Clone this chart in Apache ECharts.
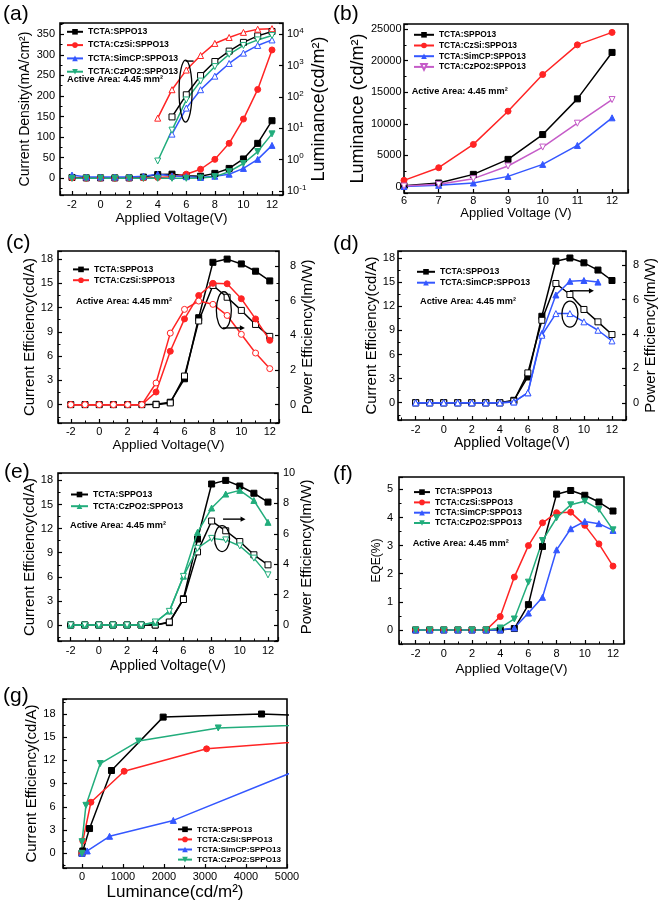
<!DOCTYPE html>
<html><head><meta charset="utf-8">
<script src="https://cdn.jsdelivr.net/npm/echarts@6/dist/echarts.min.js"></script>
<style>html,body{margin:0;padding:0;background:#fff}#c{width:661px;height:903px}</style>
</head><body><div id="c"></div>
<script>
// ---------------- data ----------------
const voltages = [-2,-1,0,1,2,3,4,5,6,7,8,9,10,11,12];
const voltagesB = [6,7,8,9,10,11,12];
const names = ['TCTA:SPPO13','TCTA:CzSi:SPPO13','TCTA:SimCP:SPPO13','TCTA:CzPO2:SPPO13'];

// (a) current density (mA/cm2)
const jSPPO13 = [2,1,1,1,1,3,9,10,6,5,12,24,47,85,140];
const jCzSi   = [1,0,0,0,0,1,2,4,10,22,46,85,144,216,312];
const jSimCP  = [8,3,3,3,3,5,10,6,4,2,5,10,24,46,80];
const jCzPO2  = [0,0,0,0,0,0,0,0,0,1,4,16,36,65,108];
// (a) luminance (cd/m2, log axis)
const lumA_SPPO13 = [null,null,null,null,null,null,null,23,117,480,1350,2900,5500,8900,12300];
const lumA_CzSi   = [null,null,null,null,null,null,21,170,720,2100,5100,7900,11500,14500,15100];
const lumA_SimCP  = [null,null,null,null,null,null,null,6.5,44,170,460,1170,2500,4400,6600];
const lumA_CzPO2  = [null,null,null,null,null,null,0.9,8.7,80,320,930,2300,4400,6600,9100];
// (b) luminance (cd/m2)
const lumB_SPPO13 = [200,630,2000,4370,8300,13950,21300];
const lumB_CzSi   = [1050,3050,6740,12000,17800,22500,24470];
const lumB_SimCP  = [80,260,630,1680,3580,6580,10950];
const lumB_CzPO2  = [150,420,1320,3320,6320,10100,13840];
// (c) current efficiency (cd/A) and power efficiency (lm/W)
const ceC_SPPO13 = [0,0,0,0,0,0,0.05,0.3,3.2,10.75,17.6,18,17.4,16.5,15.3];
const ceC_CzSi   = [0,0,0,0,0,0,1.56,6.6,10.6,13.5,15,14.95,13.1,10.6,7.95];
const peC_SPPO13 = [null,null,null,null,null,null,0,0.1,1.65,4.83,6.88,6.2,5.44,4.63,3.94];
const peC_CzSi   = [0,0,0,0,0,0,1.25,4.13,5.5,5.98,5.79,5.15,4.06,2.98,2.08];
// (d)
const ceD_SPPO13 = [0,0,0,0,0,0,0,0.3,3.2,10.75,17.6,18,17.4,16.5,15.2];
const ceD_SimCP  = [0,0,0,0,0,0,0,0.1,1.24,8.6,13.4,15.1,15.2,15.0,null];
const peD_SPPO13 = [0,0,0,0,0,0,0,0.1,1.74,4.8,6.94,6.3,5.43,4.71,3.97];
const peD_SimCP  = [0,0,0,0,0,0,0,0.05,0.58,3.93,5.19,5.19,4.71,4.22,3.6];
// (e)
const ceE_SPPO13 = [0,0,0,0,0,0,0,0.3,3.27,10.7,17.55,18,17.3,16.4,15.3];
const ceE_CzPO2  = [0,0,0,0,0,0,0.3,1.74,6.08,11.54,14.56,16.3,16.76,15.5,12.78];
const peE_SPPO13 = [0,0,0,0,0,0,0,0.2,1.68,4.81,6.84,6.2,5.49,4.62,3.96];
const peE_CzPO2  = [0,0,0,0,0,0,0.2,0.9,3.2,5.05,5.7,5.6,5.2,4.4,3.3];
// (f) EQE (%)
const eqeSPPO13 = [0,0,0,0,0,0,0,0.05,0.9,2.97,4.83,4.96,4.79,4.55,4.23];
const eqeCzSi   = [0,0,0,0,0,0,0.475,1.88,3.0,3.81,4.17,4.19,3.72,3.06,2.27];
const eqeSimCP  = [0,0,0,0,0,0,0,0.07,0.6,1.16,2.85,3.6,3.86,3.78,3.54];
const eqeCzPO2  = [0,0,0,0,0,0,0.07,0.39,1.7,3.18,3.99,4.45,4.58,4.29,3.56];
// (g) current efficiency vs luminance
const lumG_SPPO13 = [0,20,185,720,1980,4380,8300];
const ceG_SPPO13  = [0,0.3,3.2,10.7,17.6,18.0,17.3];
const lumG_CzSi   = [0,21,219,1029,3039,6700];
const ceG_CzSi    = [0,1.6,6.6,10.6,13.5,15.0];
const lumG_SimCP  = [0,130,673,2228,6500];
const ceG_SimCP   = [0,0.3,2.2,4.25,13.4];
const lumG_CzPO2  = [0,2,97,446,1378,3323,6700];
const ceG_CzPO2   = [0,1.5,6.2,11.6,14.5,16.2,16.8];

// ---------------- helpers ----------------
const F = "'Liberation Sans', Arial, sans-serif";
const COL = {k:'#000000', r:'#ff2424', b:'#3457ff', g:'#22ad7c', m:'#c55cc8'};
const TD = 'path://M0,0L10,0L5,8.66Z';
function pts(xs, ys){ const o=[]; xs.forEach((x,i)=>{ if(ys[i]!=null) o.push([x, ys[i]]); }); return o; }
function isMul(v, iv){ const q=v/iv; return Math.abs(q-Math.round(q))<1e-6; }
function numFmt(v){ const r=Math.round(v*1000)/1000; return String(r===0?0:r); }

function valAxis(o){
  return {
    type:'value', gridIndex:o.grid, position:o.pos, min:o.min, max:o.max,
    minInterval:o.iv, maxInterval:o.iv, splitNumber:Math.max(1,Math.round((o.max-o.min)/o.iv)),
    name:o.name, nameLocation:'middle', nameGap:o.gap,
    nameTextStyle:{fontFamily:F, fontSize:o.ns, color:'#000'},
    axisLine:{show:false, onZero:false},
    axisTick:{show:true, inside:true, length:4, lineStyle:{color:'#000', width:1.2}},
    minorTick:{show:o.minor!==false, splitNumber:2, length:2.5, lineStyle:{color:'#000', width:1}},
    splitLine:{show:false}, minorSplitLine:{show:false},
    axisLabel:{margin:o.margin, fontFamily:F, fontSize:11, color:'#000',
      formatter:v=>isMul(v,o.iv)?numFmt(v):''}
  };
}
function S(name, xi, yi, data, color, symbol, open, z){
  return {type:'line', name, xAxisIndex:xi, yAxisIndex:yi, data, color, symbol,
    symbolSize:6, showSymbol:true, lineStyle:{width:1.5, color},
    itemStyle: open?{color:'#fff', borderColor:color, borderWidth:1}:{color, borderColor:color},
    emphasis:{disabled:true}, silent:true, clip:true, z:z||2, animation:false};
}
function legend(left, top, gap, fs, iw, list){
  return {left, top, orient:'vertical', padding:0, itemGap:gap, itemWidth:iw, itemHeight:7,
    selectedMode:false, data:list, formatter:n=>n.split('#')[0],
    textStyle:{fontFamily:F, fontSize:fs, fontWeight:'bold', color:'#000'}};
}

// ---------------- layout ----------------
const grids = [
  {left:60, top:23, width:223, height:172},   // a
  {left:404, top:24, width:224, height:169},  // b
  {left:58, top:251, width:221, height:172},  // c
  {left:398, top:251, width:228, height:169}, // d
  {left:58, top:473, width:220, height:168},  // e
  {left:399, top:477, width:225, height:167}, // f
  {left:63, top:699, width:224, height:169}   // g
].map(g=>Object.assign(g,{show:true, borderColor:'#000', borderWidth:1.6, containLabel:false}));

const xAxes = [
  valAxis({grid:0,pos:'bottom',min:-2.84,max:12.77,iv:2,name:'Applied Voltage(V)',ns:13.5,gap:15,margin:4.5}),
  valAxis({grid:1,pos:'bottom',min:6,max:12.46,iv:1,name:'Applied Voltage (V)',ns:13,gap:14,margin:2.5,minor:false}),
  valAxis({grid:2,pos:'bottom',min:-2.9,max:12.65,iv:2,name:'Applied Voltage(V)',ns:13.5,gap:15.5,margin:3.5}),
  valAxis({grid:3,pos:'bottom',min:-3.26,max:13.0,iv:2,name:'Applied Voltage(V)',ns:14,gap:13,margin:4.5}),
  valAxis({grid:4,pos:'bottom',min:-2.9,max:12.71,iv:2,name:'Applied Voltage(V)',ns:14,gap:18,margin:4.5}),
  valAxis({grid:5,pos:'bottom',min:-3.18,max:12.78,iv:2,name:'Applied Voltage(V)',ns:13.5,gap:18,margin:4.5}),
  valAxis({grid:6,pos:'bottom',min:-462,max:5000,iv:1000,name:'Luminance(cd/m²)',ns:17,gap:16,margin:3.5})
];
const logAxis = {
  type:'log', logBase:10, gridIndex:0, position:'right', min:0.074, max:22900,
  name:'Luminance(cd/m²)', nameLocation:'middle', nameGap:24.5,
  nameTextStyle:{fontFamily:F, fontSize:18, color:'#000'},
  axisLine:{show:false, onZero:false},
  axisTick:{show:true, inside:true, length:4, lineStyle:{color:'#000', width:1.2}},
  splitLine:{show:false},
  axisLabel:{margin:4, fontFamily:F, color:'#000',
    formatter:v=>{ const e=Math.log10(v); const r=Math.round(e);
      if(Math.abs(e-r)>1e-4) return ''; return '{b|10}{s|'+String(r)+'}'; },
    rich:{b:{fontFamily:F, fontSize:11, color:'#000'}, s:{fontFamily:F, fontSize:8, color:'#000', padding:[0,0,7,0]}}}
};
const yAxes = [
  valAxis({grid:0,pos:'left',min:-40.6,max:377.5,iv:50,name:'Current Density(mA/cm²)',ns:14,gap:28,margin:5}),
  logAxis,
  valAxis({grid:1,pos:'left',min:-950,max:25800,iv:5000,name:'Luminance (cd/m²)',ns:18,gap:25,margin:2.5}),
  valAxis({grid:2,pos:'left',min:-2.27,max:19,iv:3,name:'Current Efficiency(cd/A)',ns:15,gap:19,margin:5}),
  valAxis({grid:2,pos:'right',min:-1.06,max:8.87,iv:2,name:'Power Efficiency(lm/W)',ns:15,gap:18,margin:11}),
  valAxis({grid:3,pos:'left',min:-2.15,max:18.87,iv:3,name:'Current Efficiency(cd/A)',ns:15,gap:14,margin:3}),
  valAxis({grid:3,pos:'right',min:-1.0,max:8.83,iv:2,name:'Power Efficiency(lm/W)',ns:15,gap:17.5,margin:7}),
  valAxis({grid:4,pos:'left',min:-1.99,max:18.92,iv:3,name:'Current Efficiency(cd/A)',ns:15,gap:19,margin:5}),
  valAxis({grid:4,pos:'right',min:-1.05,max:10,iv:2,name:'Power Efficiency(lm/W)',ns:15,gap:17.5,margin:5}),
  valAxis({grid:5,pos:'left',min:-0.5,max:5.44,iv:1,name:'EQE(%)',ns:12,gap:16.5,margin:6}),
  valAxis({grid:6,pos:'left',min:-1.9,max:19.94,iv:3,name:'Current Efficiency(cd/A)',ns:15,gap:23.5,margin:7.5})
];

const V = voltages;
const series = [
  // (a)
  S('lumSPPO13#a',0,1,pts(V,lumA_SPPO13),COL.k,'rect',true),
  S('lumCzSi#a',0,1,pts(V,lumA_CzSi),COL.r,'triangle',true),
  S('lumSimCP#a',0,1,pts(V,lumA_SimCP),COL.b,'triangle',true),
  S('lumCzPO2#a',0,1,pts(V,lumA_CzPO2),COL.g,TD,true),
  S(names[0]+'#aJ',0,0,pts(V,jSPPO13),COL.k,'rect',false,3),
  S(names[1]+'#aJ',0,0,pts(V,jCzSi),COL.r,'circle',false,3),
  S(names[2]+'#aJ',0,0,pts(V,jSimCP),COL.b,'triangle',false,3),
  S(names[3]+'#aJ',0,0,pts(V,jCzPO2),COL.g,TD,false,3),
  // (b)
  S(names[0]+'#b',1,2,pts(voltagesB,lumB_SPPO13),COL.k,'rect',false),
  S(names[1]+'#b',1,2,pts(voltagesB,lumB_CzSi),COL.r,'circle',false),
  S(names[2]+'#b',1,2,pts(voltagesB,lumB_SimCP),COL.b,'triangle',false),
  S(names[3]+'#b',1,2,pts(voltagesB,lumB_CzPO2),COL.m,TD,true),
  // (c)
  S(names[0]+'#c',2,3,pts(V,ceC_SPPO13),COL.k,'rect',false),
  S('pe0#c',2,4,pts(V,peC_SPPO13),COL.k,'rect',true),
  S(names[1]+'#c',2,3,pts(V,ceC_CzSi),COL.r,'circle',false,3),
  S('pe1#c',2,4,pts(V,peC_CzSi),COL.r,'circle',true,3),
  // (d)
  S(names[0]+'#d',3,5,pts(V,ceD_SPPO13),COL.k,'rect',false),
  S('pe0#d',3,6,pts(V,peD_SPPO13),COL.k,'rect',true),
  S(names[2]+'#d',3,5,pts(V,ceD_SimCP),COL.b,'triangle',false,3),
  S('pe2#d',3,6,pts(V,peD_SimCP),COL.b,'triangle',true,3),
  // (e)
  S(names[0]+'#e',4,7,pts(V,ceE_SPPO13),COL.k,'rect',false),
  S('pe0#e',4,8,pts(V,peE_SPPO13),COL.k,'rect',true),
  S(names[3]+'#e',4,7,pts(V,ceE_CzPO2),COL.g,'triangle',false,3),
  S('pe3#e',4,8,pts(V,peE_CzPO2),COL.g,TD,true,3),
  // (f)
  S(names[0]+'#f',5,9,pts(V,eqeSPPO13),COL.k,'rect',false),
  S(names[1]+'#f',5,9,pts(V,eqeCzSi),COL.r,'circle',false),
  S(names[2]+'#f',5,9,pts(V,eqeSimCP),COL.b,'triangle',false),
  S(names[3]+'#f',5,9,pts(V,eqeCzPO2),COL.g,TD,false),
  // (g)
  S(names[0]+'#g',6,10,pts(lumG_SPPO13,ceG_SPPO13),COL.k,'rect',false),
  S(names[1]+'#g',6,10,pts(lumG_CzSi,ceG_CzSi),COL.r,'circle',false),
  S(names[2]+'#g',6,10,pts(lumG_SimCP,ceG_SimCP),COL.b,'triangle',false),
  S(names[3]+'#g',6,10,pts(lumG_CzPO2,ceG_CzPO2),COL.g,TD,false)
];

const legends = [
  legend(66,27.3,4.3,8.7,16,names.map(n=>n+'#aJ')),
  legend(413,30.8,2.7,8.4,20,names.map(n=>n+'#b')),
  legend(72,264.9,1.8,8.7,16,[names[0]+'#c',names[1]+'#c']),
  legend(416,267.3,1.9,8.7,18,[names[0]+'#d',names[2]+'#d']),
  legend(70,490,2.7,8.7,17,[names[0]+'#e',names[3]+'#e']),
  legend(413,488.1,2.3,8.4,16,names.map(n=>n+'#f')),
  legend(177,825.3,2.1,8.1,14,names.map(n=>n+'#g'))
];

const chart = echarts.init(document.getElementById('c'), null, {renderer:'canvas'});
chart.setOption({backgroundColor:'#fff', animation:false, grid:grids, xAxis:xAxes, yAxis:yAxes, legend:legends, series});

// ---------------- annotations ----------------
const panelLabels = [['(a)',3,4],['(b)',333,4],['(c)',6,233],['(d)',333,234],['(e)',4,462],['(f)',333,464],['(g)',3,686]];
const areaLabels = [[67,79.3],[411.7,91.7],[76,301.7],[420,301],[70,525.7],[412.7,543.3]];
const notes = [
  {xi:0, yi:0, xv:5.95, yv:212, rx:6.5, ry:31, dx1:0, dx2:8, dy:-30, head:false},
  {xi:2, yi:4, xv:8.77, yv:5.45, rx:7.5, ry:18.5, dx1:-1, dx2:17, dy:17.7, head:true},
  {xi:3, yi:6, xv:9, yv:5.16, rx:8, ry:13, dx1:0, dx2:20, dy:-23.3, head:true},
  {xi:4, yi:8, xv:8.74, yv:5.69, rx:7.5, ry:13, dx1:1, dx2:19.5, dy:-19.4, head:true}
];
const gr = [];
panelLabels.forEach(([t,x,y])=>gr.push({type:'text', x, y, silent:true,
  style:{text:t, fontFamily:F, fontSize:21, fill:'#000', verticalAlign:'top', align:'left'}}));
areaLabels.forEach(([x,y])=>gr.push({type:'text', x, y, silent:true,
  style:{text:'Active Area: 4.45 mm²', fontFamily:F, fontSize:9.2, fontWeight:'bold', fill:'#000', verticalAlign:'middle', align:'left'}}));
notes.forEach(n=>{
  const p = chart.convertToPixel({xAxisIndex:n.xi, yAxisIndex:n.yi},[n.xv,n.yv]);
  gr.push({type:'ellipse', silent:true, z:20, shape:{cx:p[0], cy:p[1], rx:n.rx, ry:n.ry},
    style:{fill:'none', stroke:'#000', lineWidth:1.3}});
  const y = p[1]+n.dy;
  gr.push({type:'line', silent:true, z:20, shape:{x1:p[0]+n.dx1, y1:y, x2:p[0]+n.dx2, y2:y},
    style:{stroke:'#000', lineWidth:1.4}});
  if(n.head) gr.push({type:'polygon', silent:true, z:20,
    shape:{points:[[p[0]+n.dx2+4,y],[p[0]+n.dx2-1,y-2.6],[p[0]+n.dx2-1,y+2.6]]}, style:{fill:'#000'}});
});
chart.setOption({graphic:gr});
</script></body></html>
